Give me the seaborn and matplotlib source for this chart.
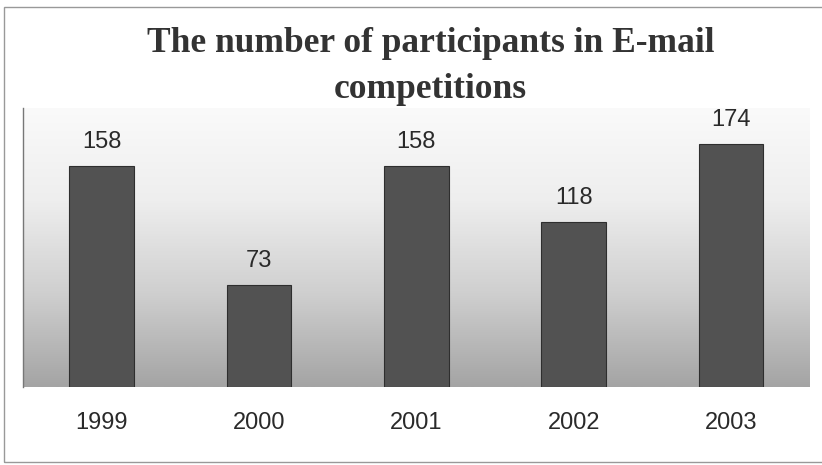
import numpy as np
import pandas as pd
import matplotlib.pyplot as plt
import seaborn as sns
from matplotlib.colors import LinearSegmentedColormap
from matplotlib.patches import Rectangle

years = ["1999", "2000", "2001", "2002", "2003"]
participants = [158, 73, 158, 118, 174]

df = pd.DataFrame({"Year": years, "Participants": participants})

sns.set_theme(style="white")

fig = plt.figure(figsize=(8.22, 4.65), dpi=100)
ax = fig.add_axes([0.028, 0.168, 0.957, 0.600])

# vertical grey gradient behind the bars (white at top, grey at bottom)
bg_cmap = LinearSegmentedColormap.from_list(
    "bg", ["#fafafa", "#eeeeee", "#cfcfcf", "#a4a4a4"])
grad = np.linspace(0, 1, 256).reshape(-1, 1)
ax.imshow(grad, cmap=bg_cmap, aspect="auto", extent=[0, 1, 0, 1],
          transform=ax.transAxes, zorder=0)

sns.barplot(data=df, x="Year", y="Participants", color="#525252",
            width=0.41, edgecolor="#2e2e2e", linewidth=0.8, saturation=1,
            ax=ax, zorder=2)

for i, v in enumerate(participants):
    ax.text(i, v + 13, str(v), ha="center", va="baseline", fontsize=17,
            family="Liberation Sans", color="#2a2a2a")

ax.set_ylim(0, 200)
ax.set_xlim(-0.5, 4.5)
ax.set_yticks([])
ax.set_xlabel("")
ax.set_ylabel("")
ax.tick_params(axis="x", length=0, pad=18, labelsize=17, labelcolor="#2a2a2a")
for lbl in ax.get_xticklabels():
    lbl.set_family("Liberation Sans")
for side in ["top", "right", "bottom"]:
    ax.spines[side].set_visible(False)
ax.spines["left"].set_color("#777777")
ax.spines["left"].set_linewidth(1.0)

title_kw = dict(ha="center", va="baseline", fontsize=25.5, fontweight="bold",
                family="Liberation Serif", color="#333333")
fig.text(0.524, 0.888, "The number of participants in E-mail", **title_kw)
fig.text(0.524, 0.789, "competitions", **title_kw)

# thin frame around the whole chart
fig.patches.append(Rectangle((0.005, 0.006), 1.2, 0.98, transform=fig.transFigure,
                             fill=False, edgecolor="#999999", linewidth=1.0))

fig.savefig("out.png", dpi=100)
